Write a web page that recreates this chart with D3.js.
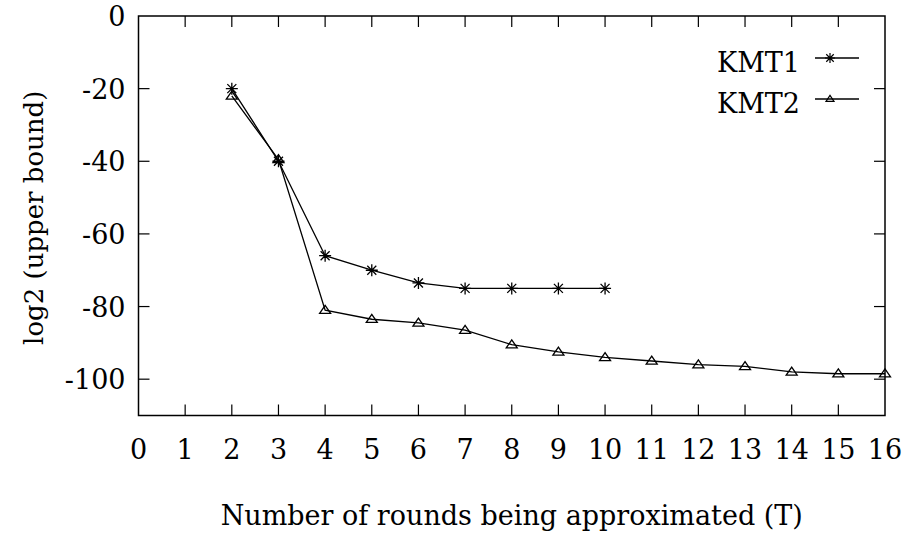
<!DOCTYPE html>
<html>
<head>
<meta charset="utf-8">
<script src="https://cdnjs.cloudflare.com/ajax/libs/d3/7.8.5/d3.min.js"></script>
<style>
  body { margin: 0; background: #fff; }
  text { font-family: "DejaVu Serif", "Liberation Serif", serif; fill: #000; }
</style>
</head>
<body>
<div id="chart"></div>
<script>
// Data
const rounds1 = [2, 3, 4, 5, 6, 7, 8, 9, 10];
const kmt1 = [-20, -40, -66, -70, -73.5, -75, -75, -75, -75];
const rounds2 = [2, 3, 4, 5, 6, 7, 8, 9, 10, 11, 12, 13, 14, 15, 16];
const kmt2 = [-22, -39.5, -81, -83.5, -84.5, -86.5, -90.5, -92.5, -94, -95, -96, -96.5, -98, -98.5, -98.5];
const xTicks = d3.range(0, 17);
const yTicks = [0, -20, -40, -60, -80, -100];
const seriesNames = ['KMT1', 'KMT2'];

const width = 903, height = 535,
  margin = {left: 138.5, right: 18, top: 16, bottom: 119.5};

const svg = d3.select('#chart').append('svg')
  .attr('width', width)
  .attr('height', height);

const x = d3.scaleLinear().domain([0, 16]).range([margin.left, width - margin.right]);
const y = d3.scaleLinear().domain([-110, 0]).range([height - margin.bottom, margin.top]);

const tickLen = 11, fontSize = 27;

// ticks, mirrored on all four sides, pointing inward
const axes = svg.append('g').attr('stroke', '#000').attr('stroke-width', 1.2);
xTicks.forEach(t => {
  if (t === 0 || t === 16) return;
  axes.append('line').attr('x1', x(t)).attr('x2', x(t))
    .attr('y1', y.range()[0]).attr('y2', y.range()[0] - tickLen);
  axes.append('line').attr('x1', x(t)).attr('x2', x(t))
    .attr('y1', y.range()[1]).attr('y2', y.range()[1] + tickLen);
});
yTicks.forEach(t => {
  if (t === 0) return;
  axes.append('line').attr('y1', y(t)).attr('y2', y(t))
    .attr('x1', x.range()[0]).attr('x2', x.range()[0] + tickLen);
  axes.append('line').attr('y1', y(t)).attr('y2', y(t))
    .attr('x1', x.range()[1]).attr('x2', x.range()[1] - tickLen);
});

// tick labels
svg.append('g').selectAll('text').data(xTicks).join('text')
  .attr('x', d => x(d))
  .attr('y', 459)
  .attr('text-anchor', 'middle')
  .attr('font-size', fontSize)
  .text(d => d);

svg.append('g').selectAll('text').data(yTicks).join('text')
  .attr('x', x.range()[0] - 13)
  .attr('y', d => y(d) + 10)
  .attr('text-anchor', 'end')
  .attr('font-size', fontSize)
  .text(d => d);

// axis titles
svg.append('text')
  .attr('x', (x.range()[0] + x.range()[1]) / 2)
  .attr('y', 525)
  .attr('text-anchor', 'middle')
  .attr('font-size', fontSize)
  .text('Number of rounds being approximated (T)');

svg.append('text')
  .attr('transform', 'translate(43,' + ((y.range()[0] + y.range()[1]) / 2 + 2) + ') rotate(-90)')
  .attr('text-anchor', 'middle')
  .attr('font-size', 26)
  .text('log2 (upper bound)');

// markers
function starPath(s) {
  return 'M' + (-s) + ',0H' + s + 'M0,' + (-s) + 'V' + s +
    'M' + (-s * 0.75) + ',' + (-s * 0.75) + 'L' + (s * 0.75) + ',' + (s * 0.75) +
    'M' + (-s * 0.75) + ',' + (s * 0.75) + 'L' + (s * 0.75) + ',' + (-s * 0.75);
}
function triPath(w, h) {
  return 'M0,' + (-h * 0.6) + 'L' + w + ',' + (h * 0.4) + 'L' + (-w) + ',' + (h * 0.4) + 'Z';
}

const line = d3.line().x(d => x(d[0])).y(d => y(d[1]));

const s1 = d3.zip(rounds1, kmt1), s2 = d3.zip(rounds2, kmt2);
const plot = svg.append('g');

plot.append('path').datum(s1).attr('d', line)
  .attr('fill', 'none').attr('stroke', '#000').attr('stroke-width', 1.3);
plot.append('path').datum(s2).attr('d', line)
  .attr('fill', 'none').attr('stroke', '#000').attr('stroke-width', 1.3);

plot.selectAll('.star').data(s1).join('path')
  .attr('class', 'star')
  .attr('transform', d => 'translate(' + x(d[0]) + ',' + y(d[1]) + ')')
  .attr('d', starPath(6))
  .attr('fill', 'none').attr('stroke', '#000').attr('stroke-width', 1.3);

plot.selectAll('.tri').data(s2).join('path')
  .attr('class', 'tri')
  .attr('transform', d => 'translate(' + x(d[0]) + ',' + y(d[1]) + ')')
  .attr('d', triPath(5.5, 8))
  .attr('fill', 'none').attr('stroke', '#000').attr('stroke-width', 1.3);

// legend
const legend = svg.append('g');
const legendY = [58, 99];
seriesNames.forEach((name, i) => {
  const ly = legendY[i];
  legend.append('text')
    .attr('x', 800).attr('y', ly + 14)
    .attr('text-anchor', 'end')
    .attr('font-size', fontSize)
    .text(name);
  legend.append('line')
    .attr('x1', 815).attr('x2', 859).attr('y1', ly).attr('y2', ly)
    .attr('stroke', '#000').attr('stroke-width', 1.3);
  legend.append('path')
    .attr('transform', 'translate(830,' + ly + ')')
    .attr('d', i === 0 ? starPath(5) : triPath(4, 6))
    .attr('fill', 'none').attr('stroke', '#000').attr('stroke-width', 1.2);
});

// frame
svg.append('rect')
  .attr('x', x.range()[0]).attr('y', y.range()[1])
  .attr('width', x.range()[1] - x.range()[0])
  .attr('height', y.range()[0] - y.range()[1])
  .attr('fill', 'none').attr('stroke', '#000').attr('stroke-width', 1.5);
</script>
</body>
</html>
